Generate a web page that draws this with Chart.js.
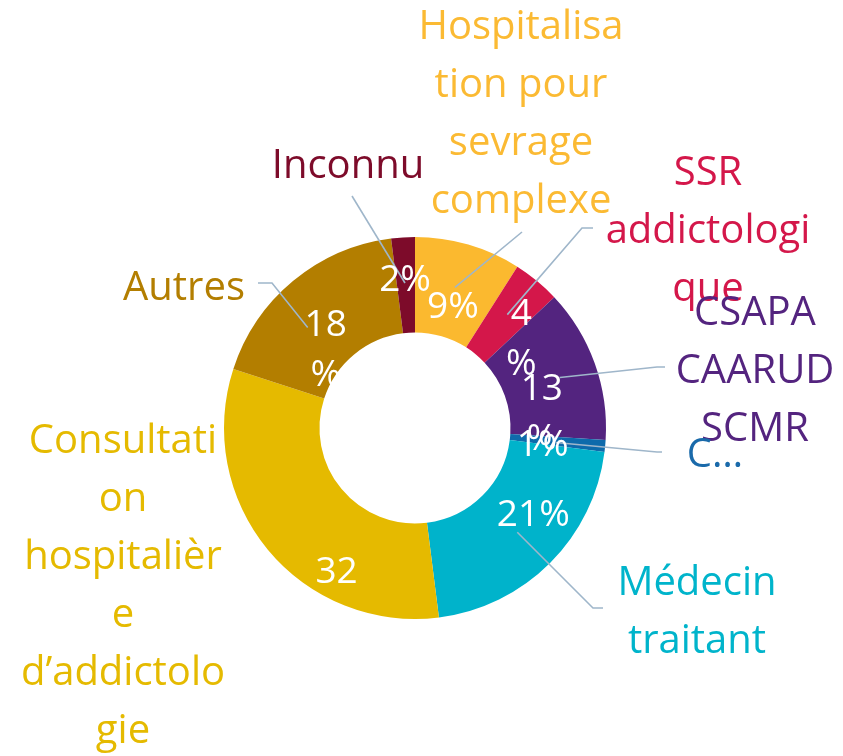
<!DOCTYPE html>
<html>
<head>
<meta charset="utf-8">
<script src="https://cdn.jsdelivr.net/npm/chart.js@4/dist/chart.umd.min.js"></script>
<style>
  html, body { margin: 0; padding: 0; background: #fff; overflow: hidden; }
  #wrap { width: 843px; height: 756px; position: relative; }
</style>
</head>
<body>
<div id="wrap"><canvas id="chart" width="843" height="756"></canvas></div>
<script>
// data
const categories = [
    "Hospitalisation pour sevrage complexe",
    "SSR addictologique",
    "CSAPA CAARUD SCMR",
    "C…",
    "Médecin traitant",
    "Consultation hospitalière d’addictologie",
    "Autres",
    "Inconnu"
];
const values = [9, 4, 13, 1, 21, 32, 18, 2];
const valueLabels = ["9%", "4\n%", "13\n%", "1%", "21%", "32\n%", "18\n%", "2%"];
// wrapped the way the original text boxes wrap
const categoryLines = [
    ["Hospitalisa", "tion pour", "sevrage", "complexe"],
    ["SSR", "addictologi", "que"],
    ["CSAPA", "CAARUD", "SCMR"],
    ["C…"],
    ["Médecin", "traitant"],
    ["Consultati", "on", "hospitalièr", "e", "d’addictolo", "gie"],
    ["Autres"],
    ["Inconnu"]
];

// styles
const sliceColors = ["#FBB92F", "#D4174A", "#53247F", "#0E6AAB", "#00B3CB", "#E5BA00", "#B37E00", "#7D0B2A"];
const labelColors = ["#FBBA33", "#D4174A", "#54247F", "#1A6AAA", "#00B4CB", "#E5BA00", "#B37E00", "#7D0B2A"];
const FONT = "'Open Sans', sans-serif";

// layout of the annotations (outer labels, leader lines, value label nudges)
const catLabelPos = [[521, 39], [708, 185], [755, 325], [715, 467], [697, 595], [123, 453], [184, 300], [348, 178]];
const valueNudge = [[-2, 17], [15, -3], [-8, 10], [-15, 4], [17, -14], [32, 53], [2, 8], [-1, -5]];
const leaderStart = [
    [[522, 232]],
    [[593, 228], [582, 228]],
    [[665, 367], [657, 367]],
    [[662, 452], [657, 452]],
    [[603, 608], [593, 608]],
    null,
    [[258, 283], [272, 283]],
    [[352, 196]]
];
const leaderEnd = [[2, -20], [-14, 0], [18, -12], [13, -3], [-16, 17], null, [-18, 2], [0, 3]];

const labelsPlugin = {
    id: "pieLabels",
    afterDatasetsDraw(chart) {
        const ctx = chart.ctx;
        const meta = chart.getDatasetMeta(0);
        const anchors = meta.data.map((arc, i) => {
            const p = arc.getProps(["x", "y", "startAngle", "endAngle", "innerRadius", "outerRadius"], true);
            const mid = (p.startAngle + p.endAngle) / 2;
            const r = (p.innerRadius + p.outerRadius) / 2;
            return [p.x + Math.cos(mid) * r + valueNudge[i][0], p.y + Math.sin(mid) * r + valueNudge[i][1]];
        });

        ctx.save();
        // leader lines
        ctx.strokeStyle = "#9FB6CA";
        ctx.lineWidth = 1.6;
        anchors.forEach((a, i) => {
            if (!leaderStart[i]) return;
            ctx.beginPath();
            leaderStart[i].forEach((pt, k) => k === 0 ? ctx.moveTo(pt[0], pt[1]) : ctx.lineTo(pt[0], pt[1]));
            ctx.lineTo(a[0] + leaderEnd[i][0], a[1] + leaderEnd[i][1]);
            ctx.stroke();
        });

        // values inside the ring
        ctx.fillStyle = "#ffffff";
        ctx.font = "37px " + FONT;
        ctx.textAlign = "center";
        ctx.textBaseline = "middle";
        anchors.forEach((a, i) => {
            valueLabels[i].split("\n").forEach((line, k) => {
                ctx.fillText(line, a[0], a[1] + k * 50);
            });
        });

        // category labels
        ctx.font = "40px " + FONT;
        ctx.textBaseline = "alphabetic";
        categoryLines.forEach((lines, i) => {
            ctx.fillStyle = labelColors[i];
            lines.forEach((line, k) => {
                ctx.fillText(line, catLabelPos[i][0], catLabelPos[i][1] + k * 58);
            });
        });
        ctx.restore();
    }
};

new Chart(document.getElementById("chart").getContext("2d"), {
    type: "doughnut",
    data: {
        labels: categories,
        datasets: [{
            data: values,
            backgroundColor: sliceColors,
            borderWidth: 0
        }]
    },
    options: {
        responsive: false,
        animation: false,
        cutout: "50%",
        layout: { padding: { left: 224, right: 237, top: 237, bottom: 137 } },
        plugins: {
            legend: { display: false },
            tooltip: { enabled: false }
        }
    },
    plugins: [labelsPlugin]
});
</script>
</body>
</html>
